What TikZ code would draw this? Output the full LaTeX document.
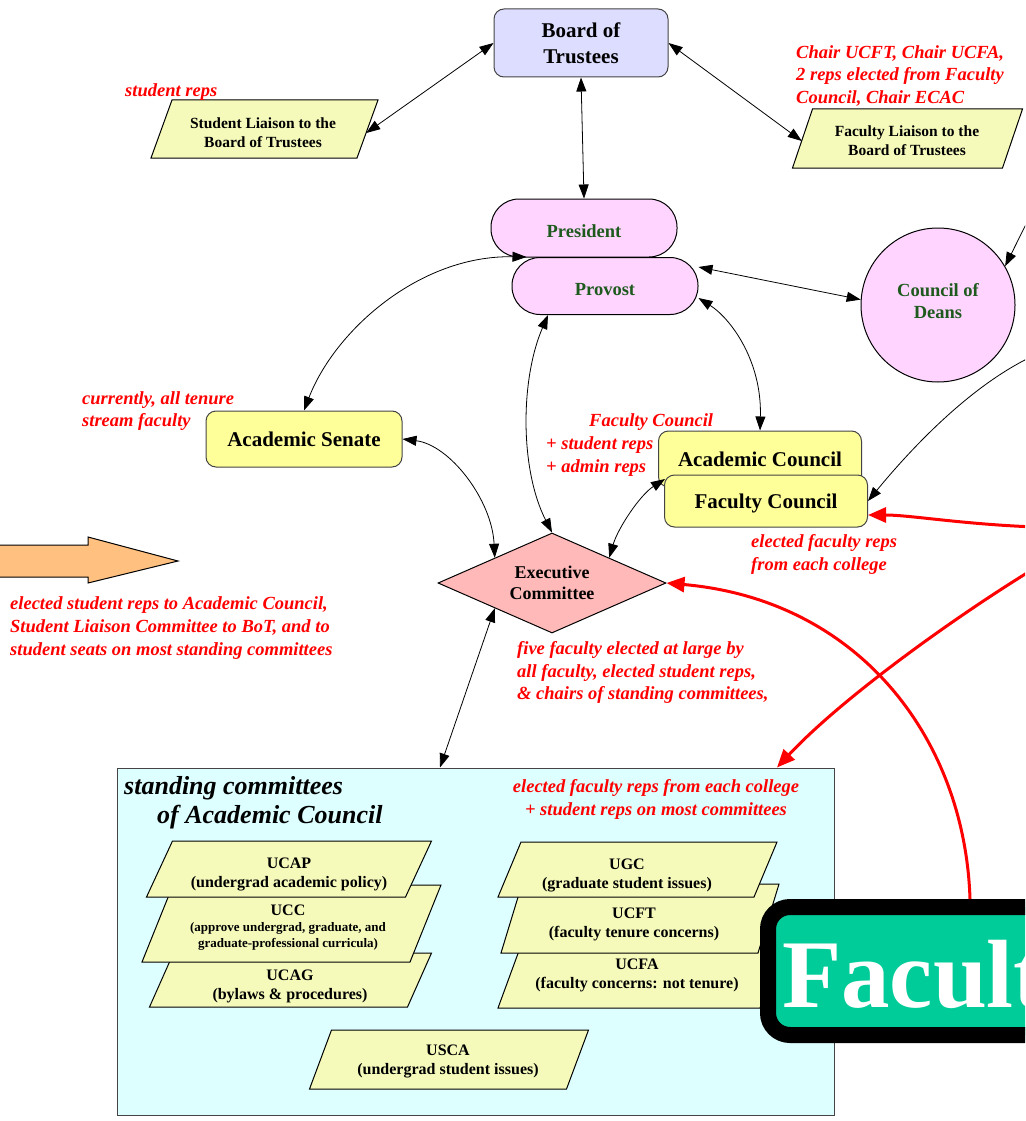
\documentclass[tikz,border=0pt]{standalone}
\usepackage{fontspec}
\setmainfont{Liberation Serif}
\usetikzlibrary{arrows.meta,shapes.geometric,calc}
\definecolor{bluefill}{HTML}{DDDDFF}
\definecolor{pinkfill}{HTML}{FFD5FF}
\definecolor{yelfill}{HTML}{FFFF99}
\definecolor{plgfill}{HTML}{F5FABB}
\definecolor{execfill}{HTML}{FFB9B9}
\definecolor{orangefill}{HTML}{FFC080}
\definecolor{cyanfill}{HTML}{DDFFFF}
\definecolor{tealfill}{HTML}{00CC99}
\definecolor{dkgreen}{HTML}{1E5A1E}
\definecolor{edgegray}{HTML}{444444}
\newcommand\setfs[2]{\fontsize{#1}{#2}\selectfont}
\newcommand\plgshape[5]{%
  \filldraw[plgpath] ({#1-#3/2+#5/2},{#2-#4/2}) -- ({#1+#3/2+#5/2},{#2-#4/2}) --
    ({#1+#3/2-#5/2},{#2+#4/2}) -- ({#1-#3/2-#5/2},{#2+#4/2}) -- cycle;}
\tikzset{
  conn/.style={line width=0.8pt, <->},
  connone/.style={line width=0.8pt, ->},
  redconn/.style={draw=red, line width=3pt, -{Triangle[length=18pt,width=15pt]}},
  plgpath/.style={fill=plgfill, draw=black, line width=1pt},
  plgtext/.style={align=center, inner sep=0pt, font=\setfs{16}{19}\bfseries},
  liaison/.style={align=center, inner sep=0pt, font=\setfs{15.5}{19}\bfseries},
  boardbox/.style={draw=edgegray, fill=bluefill, line width=1pt, rounded corners=10pt, align=center, inner sep=0pt, font=\setfs{21}{26}\bfseries},
  pillbox/.style={draw=black, fill=pinkfill, line width=1pt, rounded corners=28pt, inner sep=0pt, text height=18pt, text depth=0pt, text=dkgreen, font=\setfs{18.5}{22}\bfseries},
  circbox/.style={circle, draw=black, fill=pinkfill, line width=1pt, inner sep=0pt},
  circlbl/.style={align=center, inner sep=0pt, text=dkgreen, font=\setfs{18.5}{22}\bfseries},
  yelbox/.style={draw=edgegray, fill=yelfill, line width=1pt, rounded corners=10pt, inner sep=0pt, text depth=0pt, font=\setfs{21}{25}\bfseries},
  execbox/.style={diamond, shape aspect=2.28, draw=black, fill=execfill, line width=1pt, inner sep=0pt, align=center, font=\setfs{18}{21}\bfseries},
  redlbl/.style={text=red, font=\setfs{18.5}{22.7}\bfseries\itshape, align=left, inner sep=0pt, anchor=west},
  titlelbl/.style={font=\setfs{26}{29}\bfseries\itshape, inner sep=0pt, anchor=west},
  stdbox/.style={draw=edgegray, fill=cyanfill, line width=1pt, inner sep=0pt},
  facbox/.style={draw=black, fill=tealfill, line width=16pt, rounded corners=22pt, inner sep=0pt},
  faclbl/.style={text=white, font=\setfs{97}{100}\bfseries, inner sep=0pt, anchor=base west}
}
\begin{document}
\begin{tikzpicture}[x=1pt, y=-1pt, >={Triangle[length=14pt,width=10pt]}]
\useasboundingbox (0,0) rectangle (1025,1121);
\clip (0,0) rectangle (1025,1121);
\fill[white] (0,0) rectangle (1025,1121);

% orange arrow
\filldraw[fill=orangefill, draw=black, line width=1pt] (-5,545) -- (88,545) -- (88,537) -- (178,561) -- (88,583) -- (88,577) -- (-5,577) -- cycle;

% standing committees box
\node[stdbox, minimum width=717, minimum height=347] (sc) at (475.5,941.5) {};
\node[titlelbl] (t1) at (124,788.5) {standing committees};
\node[titlelbl] (t2) at (157,817.5) {of Academic Council};
\node[redlbl, align=center, anchor=center] (lsc) at (656,799.5) {elected faculty reps from each college\\+ student reps on most committees};

% left stack
\plgshape{290.5}{980}{258}{54}{24}
\node[plgtext] (ucag) at (290,986) {UCAG\\(bylaws \& procedures)};
\plgshape{291.5}{923.5}{268}{77}{31}
\node[plgtext] (ucc) at (288,928) {UCC\\[-3pt]\setfs{13}{16}(approve undergrad, graduate, and\\[-3pt]\setfs{13}{16}graduate-professional curricula)};
\plgshape{289}{869}{259}{56}{26}
\node[plgtext] (ucap) at (289,874) {UCAP\\(undergrad academic policy)};

% right stack
\plgshape{640}{978}{262}{60}{22}
\node[plgtext] (ucfa) at (637,975) {UCFA\\(faculty concerns: not tenure)};
\plgshape{640}{918.5}{257}{69}{21}
\node[plgtext] (ucft) at (634,924.5) {UCFT\\(faculty tenure concerns)};
\plgshape{637.5}{869.5}{256}{55}{23}
\node[plgtext] (ugc) at (627,875) {UGC\\(graduate student issues)};

\plgshape{449}{1059.5}{257}{59}{22}
\node[plgtext] (usca) at (448,1061) {USCA\\(undergrad student issues)};

% Faculty big box
\node[facbox, anchor=north west, minimum width=532, minimum height=128] (fac) at (760,899) {};
\node[faclbl] (faclabel) at (782,1007) {Faculty};

% top
\node[boardbox, minimum width=174, minimum height=68] (board) at (581,43) {Board of\\Trustees};
\plgshape{264.5}{129}{206}{58}{21}
\node[liaison, minimum width=206, minimum height=58] (sl) at (263,133) {Student Liaison to the\\Board of Trustees};
\plgshape{907.5}{138.5}{210}{59}{20}
\node[liaison, minimum width=210, minimum height=59] (fl) at (907,141) {Faculty Liaison to the\\Board of Trustees};
\node[redlbl] (lsr) at (125,92) {student reps};
\node[redlbl] (lchair) at (796,76) {Chair UCFT, Chair UCFA,\\2 reps elected from Faculty\\Council, Chair ECAC};

\node[pillbox, minimum width=186, minimum height=58] (pres) at (584,228) {President};
\node[pillbox, minimum width=186, minimum height=57] (prov) at (605,286) {Provost};
\node[circbox, minimum size=154] (deans) at (938,305) {};
\node[circlbl] (deanslbl) at (938,301) {Council of\\Deans};

\node[yelbox, minimum width=196, minimum height=56] (sen) at (304,439) {Academic Senate};
\node[redlbl] (lcur) at (82,411) {currently, all tenure\\stream faculty};

\node[yelbox, minimum width=203, minimum height=56] (ac) at (760,459) {Academic Council};
\node[yelbox, minimum width=203, minimum height=52] (fc) at (766,501) {Faculty Council};
\node[redlbl] (lfcac) at (546,445) {\hspace*{43pt}Faculty Council\\+ student reps\\+ admin reps};
\node[redlbl] (lefr) at (751,554.5) {elected faculty reps\\from each college};

\node[execbox, minimum width=228, minimum height=100] (exec) at (552,583) {Executive\\Committee};
\node[redlbl] (lstu) at (10,628) {elected student reps to Academic Council,\\Student Liaison Committee to BoT, and to\\student seats on most standing committees};
\node[redlbl] (lfive) at (517,672.5) {five faculty elected at large by\\all faculty, elected student reps,\\\& chairs of standing committees,};

% off-page ends
\coordinate (offA) at (1040,196);
\coordinate (offB) at (1035,355);
\coordinate (offC) at (1035,527);
\coordinate (offD) at (1035,568);

% black connectors
\draw[conn] (board.west) -- (sl.east);
\draw[conn] (board.east) -- (fl.west);
\draw[conn] (board.south) -- (pres.north);
\draw[conn] ([yshift=-10pt]prov.north east) -- (deans.176);
\draw[connone] (offA) -- (deans.30);
\draw[conn] (sen.north) .. controls (335,330) and (420,255) .. ([xshift=15pt]prov.north west);
\draw[conn] ([yshift=-12pt]prov.east) .. controls (730,318) and (762,360) .. (ac.north);
\draw[conn] ([xshift=-57pt]prov.south) .. controls (520,380) and (520,470) .. (exec.north);
\draw[conn] (sen.east) .. controls (450,445) and (492,500) .. (exec.north west);
\draw[conn] ([xshift=7pt,yshift=-20pt]ac.west) .. controls (640,495) and (618,528) .. (exec.north east);
\draw[conn] (exec.south west) -- ([xshift=-35.5pt]sc.north);
\draw[connone] (offB) .. controls (970,385) and (910,450) .. (fc.east);

% red connectors
\draw[redconn] (offC) .. controls (960,524) and (910,515) .. ([yshift=-14pt]fc.east);
\draw[redconn] ([xshift=210pt]fac.north west) .. controls (965,740) and (860,600) .. (exec.east);
\draw[redconn] (offD) .. controls (950,620) and (840,700) .. ([xshift=301.5pt]sc.north);
\end{tikzpicture}
\end{document}
